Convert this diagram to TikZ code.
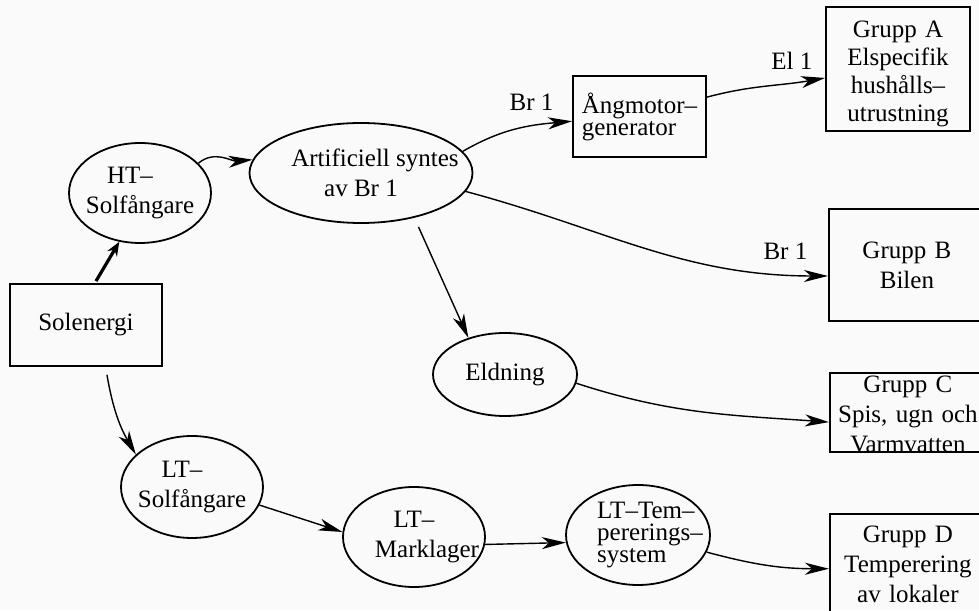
\documentclass[tikz,border=0pt]{standalone}
\usepackage{fontspec}
\setmainfont{Liberation Serif}
\usetikzlibrary{shapes.geometric,arrows.meta,positioning}

\tikzstyle{blob} = [ellipse, draw, line width=0.9pt, inner sep=-3pt, align=center, font=\fontsize{12.5}{15}\selectfont]
\tikzstyle{box} = [rectangle, draw, line width=0.9pt, inner sep=0pt, align=center, font=\fontsize{12.5}{15}\selectfont]
\tikzstyle{cut} = [box, anchor=north west, text width=78pt]
\tikzstyle{feed} = [line width=0.7pt, -{Stealth[length=12pt, width=6pt, inset=3.5pt]}]
\tikzstyle{qty} = [inner sep=1pt, font=\fontsize{12.5}{15}\selectfont]

\begin{document}
\begin{tikzpicture}[x=0.5pt, y=0.5pt]
\useasboundingbox (0,0) rectangle (979,610);
\clip (0,0) rectangle (979,610);
\fill[black!2] (0,0) rectangle (979,610);

% source and high temperature branch
\node[box, minimum width=76pt, minimum height=41pt] (sol) at (86,285) {Solenergi};
\node[blob, minimum width=71pt, minimum height=50pt] (ht) at (140,417) {HT–\hspace*{10pt}\\Solfångare};
\node[blob, minimum width=111.5pt, minimum height=50pt, inner xsep=-10pt] (art) at (361,437)
    {\hspace*{14pt}Artificiell syntes\\av Br 1};
\node[box, minimum width=66.5pt, minimum height=40.5pt, align=left,
      font=\fontsize{12.5}{11}\selectfont] (ang) at (639.5,493.5) {Ångmotor–\\generator};
\node[blob, minimum width=72pt, minimum height=41.5pt] (eld) at (505,235.5) {Eldning};

% low temperature branch
\node[blob, minimum width=71pt, minimum height=51pt] (lts) at (192,123) {LT–\hspace*{10pt}\\Solfångare};
\node[blob, minimum width=71pt, minimum height=50pt, inner xsep=-10pt] (ltm) at (414,73)
    {LT–\\\hspace*{13pt}Marklager};
\node[blob, minimum width=72pt, minimum height=50pt, inner xsep=-10pt, align=left,
      font=\fontsize{12.5}{11}\selectfont] (ltt) at (638,75)
    {\hspace*{12pt}LT–Tem–\\\hspace*{12pt}pererings–\\\hspace*{12pt}system};

% user groups
\node[cut, anchor=center, text width=72pt, text height=15.5pt, text depth=46.5pt,
      font=\fontsize{12.5}{14}\selectfont] (grpA) at (898,541)
    {Grupp A\\Elspecifik\\hushålls–\\utrustning};
\node[cut, text height=25pt, text depth=31pt] (grpB) at (828,402) {Grupp B\\Bilen};
\node[cut, text height=10pt, text depth=29.5pt] (grpC) at (829,238) {Grupp C\\Spis, ugn och\\Varmvatten};
\node[cut, text height=14.5pt, text depth=60pt] (grpD) at (829,97) {Grupp D\\Temperering\\av lokaler};

% flows
\draw[line width=1.6pt, -{Stealth[length=7pt, width=5.5pt]}] ([xshift=5pt, yshift=1pt]sol.north) -- (ht.247);
\draw[feed] (ht.27) to[out=40, in=185] (art.173);
\draw[feed] (art.12) to[out=30, in=185] node[qty, pos=1, above left=4pt and 8pt] {Br 1} (ang.184);
\draw[feed] (ang.16) to[out=15, in=190] node[qty, pos=1, above left=3pt and 5pt] {El 1} (grpA.187);
\draw[feed] (art.-10) to[out=-15, in=180] node[qty, pos=1, above left=7pt and 9pt] {Br 1} (grpB.188);
\draw[feed, shorten <=5pt] (art.-40) -- (eld.135);
\draw[feed] (eld.-7) to[out=-18, in=176] (grpC.187);
\draw[feed, shorten <=4pt] (sol.-65) to[out=-80, in=120] (lts.150);
\draw[feed] (lts.-15) -- (ltm.176);
\draw[feed] (ltm.-6) -- (ltt.186);
\draw[feed] (ltt.-14) to[out=-15, in=180] (grpD.166);
\end{tikzpicture}
\end{document}
